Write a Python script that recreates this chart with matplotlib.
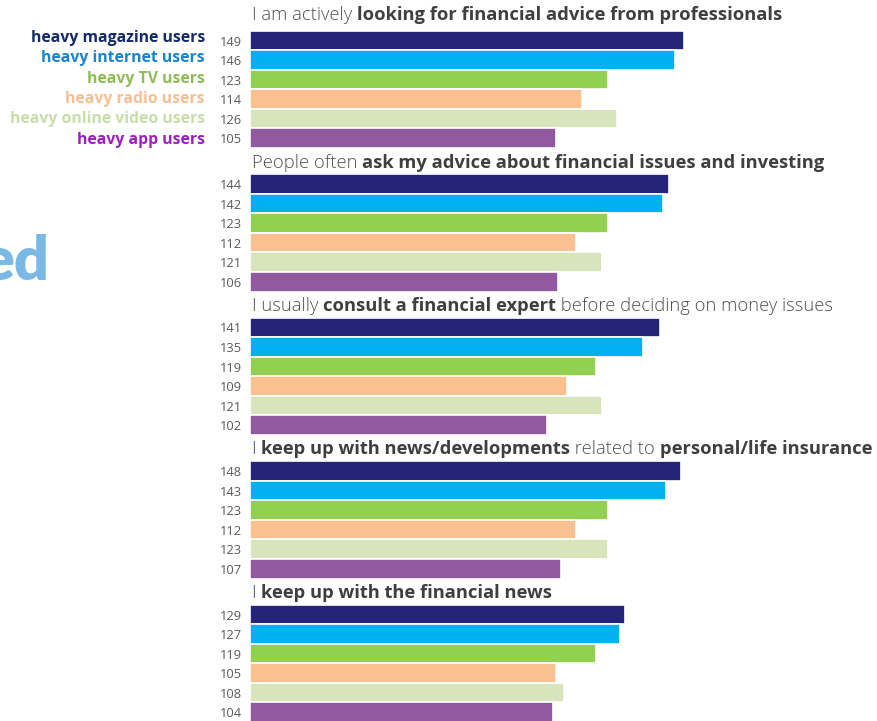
import matplotlib
matplotlib.use("Agg")
import matplotlib.pyplot as plt

# Index values per statement, one entry per media group
groups = ["heavy magazine users", "heavy internet users", "heavy TV users",
          "heavy radio users", "heavy online video users", "heavy app users"]
looking_for_advice = [149, 146, 123, 114, 126, 105]
asked_for_advice = [144, 142, 123, 112, 121, 106]
consult_expert = [141, 135, 119, 109, 121, 102]
insurance_news = [148, 143, 123, 112, 123, 107]
financial_news = [129, 127, 119, 105, 108, 104]

statements = [
    [("I am actively ", "light"), ("looking for financial advice from professionals", "bold")],
    [("People often ", "light"), ("ask my advice about financial issues and investing", "bold")],
    [("I usually ", "light"), ("consult a financial expert", "bold"),
     (" before deciding on money issues", "light")],
    [("I ", "light"), ("keep up with news/developments", "bold"), (" related to ", "light"),
     ("personal/life insurance", "bold")],
    [("I ", "light"), ("keep up with the financial news", "bold")],
]
series = [looking_for_advice, asked_for_advice, consult_expert, insurance_news, financial_news]

bar_colors = ["#24247a", "#00b0f0", "#92d050", "#fac090", "#d8e4bc", "#9159a0"]
legend_colors = ["#142a6a", "#1a84d0", "#8fbc55", "#f9bf93", "#c9dcac", "#9b1fc0"]

W, H = 878, 721
fig = plt.figure(figsize=(W / 100, H / 100), dpi=100)
ax = fig.add_axes([0, 0, 1, 1])

PX_PER_UNIT = 2.91
X0 = 250  # pixel position of zero
ax.set_xlim(-X0 / PX_PER_UNIT, (W - X0) / PX_PER_UNIT)
ax.set_ylim(H, 0)
ax.axis("off")


def px(x):
    return (x - X0) / PX_PER_UNIT


FAM = ["Open Sans", "DejaVu Sans"]
GROUP_STEP = 143.5
ROW_STEP = 19.55
FIRST_ROW = 40.5
TITLE_OFFSET = -21.5
FIRST_TITLE_Y = 14.5  # the top heading sits tighter against the page edge

fig.canvas.draw()
renderer = fig.canvas.get_renderer()

for gi, (pieces, vals) in enumerate(zip(statements, series)):
    top = FIRST_ROW + gi * GROUP_STEP
    ys = [top + r * ROW_STEP for r in range(len(vals))]
    ax.barh(ys, vals, height=ROW_STEP, color=bar_colors, edgecolor="white", linewidth=1.2)
    for y, v in zip(ys, vals):
        ax.text(px(242), y + 1.5, str(v), ha="right", va="center", fontsize=9.3,
                color="#5a5a5a", family=FAM)
    # statement heading made of light and bold runs
    x_cursor = 252
    ty = top + TITLE_OFFSET if gi else FIRST_TITLE_Y
    for txt, w in pieces:
        t = ax.text(px(x_cursor), ty, txt, ha="left", va="center", fontsize=13.2,
                    fontweight=w, family=FAM,
                    color="#3f3f3f" if w == "bold" else "#505050")
        bb = t.get_window_extent(renderer=renderer)
        x_cursor += bb.width

for i, (name, c) in enumerate(zip(groups, legend_colors)):
    ax.text(px(205), 38 + i * 20.3, name, ha="right", va="center", fontsize=11.3,
            fontweight="bold", color=c, family=FAM)

ax.text(px(50), 262, "ed", ha="right", va="center", fontsize=44, fontweight="heavy",
        color="#7ab8e6", family=["Lato", "DejaVu Sans"])

fig.savefig("out.png", dpi=100)
